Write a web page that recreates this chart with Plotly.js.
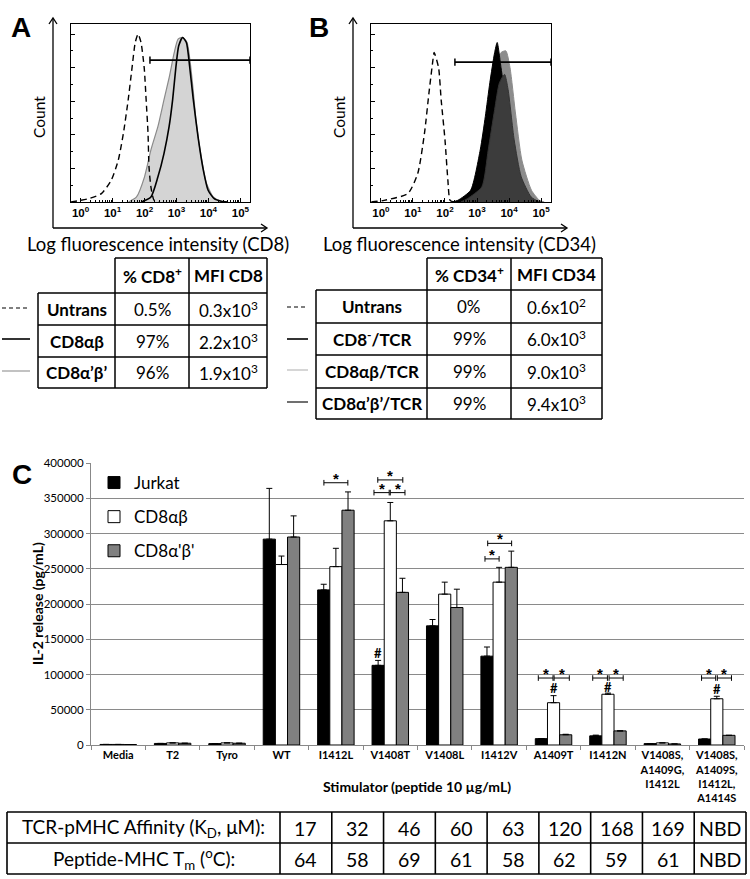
<!DOCTYPE html>
<html><head><meta charset="utf-8">
<script src="https://cdn.plot.ly/plotly-3.0.1.min.js"></script>
<style>html,body{margin:0;padding:0;background:#fff}#chart{width:750px;height:879px}</style>
</head><body><div id="chart"></div>
<script>
// ---------- Panel A histogram (x = log10 fluorescence, y = relative count) ----------
const untransA_x = [-0.3, 0.25, 0.65, 0.96, 1.18, 1.34, 1.49, 1.61, 1.71, 1.80, 1.89, 1.99, 2.05, 2.11, 2.14, 2.20, 2.30, 2.45];
const untransA_y = [0, 2, 5, 13, 25, 41, 61, 80, 95, 100, 95, 80, 61, 41, 21, 9, 1, 0];
const cd8apbpA_x = [1.5, 1.75, 2.0, 2.2, 2.42, 2.61, 2.77, 2.93, 3.05, 3.19, 3.33, 3.43, 3.52, 3.62, 3.78, 3.94, 4.15, 4.38, 4.6];
const cd8apbpA_y = [0, 3, 15, 31, 45, 61, 74, 89, 97, 98, 95, 83, 67, 47, 26, 11, 3, 0.5, 0];
const cd8abA_x = [1.9, 2.2, 2.42, 2.61, 2.77, 2.88, 2.98, 3.07, 3.19, 3.31, 3.41, 3.52, 3.68, 3.84, 3.99, 4.18, 4.4, 4.6];
const cd8abA_y = [0, 3, 15, 29, 45, 61, 80, 93, 98, 95, 81, 62, 38, 19, 7, 2, 0.5, 0];
const gateA = [2.17, 5.30, 84.5];

// ---------- Panel B histogram ----------
const untransB_x = [-0.3, 0.1, 0.84, 1.15, 1.36, 1.5, 1.62, 1.66, 1.8, 1.88, 2.0, 2.09, 2.16, 2.3];
const untransB_y = [0, 1, 5, 17, 41, 65, 84, 89, 80, 61, 37, 13, 1, 0];
const cd8abB_x = [2.3, 2.5, 3.05, 3.35, 3.6, 3.75, 3.9, 4.03, 4.2, 4.4, 4.7, 4.95, 5.1];
const cd8abB_y = [0, 1, 9, 45, 80, 89, 90, 80, 53, 25, 7, 1, 0];
const cd8negB_x = [2.2, 2.4, 2.8, 3.1, 3.26, 3.4, 3.55, 3.63, 3.75, 3.9, 4.1, 4.3, 4.5, 4.7];
const cd8negB_y = [0, 1, 7, 31, 51, 71, 89, 95, 80, 60, 35, 15, 4, 0];
const cd8apbpB_x = [2.5, 2.7, 3.15, 3.35, 3.55, 3.7, 3.86, 3.97, 4.16, 4.38, 4.69, 4.9, 5.0];
const cd8apbpB_y = [0, 2, 9, 31, 55, 71, 76, 67, 37, 15, 3, 0.5, 0];
const gateB = [2.31, 5.31, 83.3];

const decadeTicks = [0, 1, 2, 3, 4, 5];
const decadeText = ['10<sup>0</sup>', '10<sup>1</sup>', '10<sup>2</sup>', '10<sup>3</sup>', '10<sup>4</sup>', '10<sup>5</sup>'];

// ---------- Tables A and B ----------
const tableA_head = ['% CD8<sup>+</sup>', 'MFI CD8'];
const tableA_rows = ['Untrans', 'CD8αβ', 'CD8α’β’'];
const tableA_pct = ['0.5%', '97%', '96%'];
const tableA_mfi = ['0.3x10<sup>3</sup>', '2.2x10<sup>3</sup>', '1.9x10<sup>3</sup>'];
const tableB_head = ['% CD34<sup>+</sup>', 'MFI CD34'];
const tableB_rows = ['Untrans', 'CD8<sup>-</sup>/TCR', 'CD8αβ/TCR', 'CD8α’β’/TCR'];
const tableB_pct = ['0%', '99%', '99%', '99%'];
const tableB_mfi = ['0.6x10<sup>2</sup>', '6.0x10<sup>3</sup>', '9.0x10<sup>3</sup>', '9.4x10<sup>3</sup>'];

// ---------- Panel C bar chart ----------
const categories = ['Media', 'T2', 'Tyro', 'WT', 'I1412L', 'V1408T', 'V1408L', 'I1412V', 'A1409T', 'I1412N',
  'V1408S,<br>A1409G,<br>I1412L', 'V1408S,<br>A1409S,<br>I1412L,<br>A1414S'];
const jurkat     = [800, 2200, 2000, 292000, 220000, 113000, 169000, 126000, 9000, 13000, 2000, 8500];
const jurkatErr  = [null, null, null, 72000, 8000, 7000, 9000, 13000, null, 1000, null, null];
const cd8ab      = [800, 3000, 3000, 256000, 253000, 318000, 214000, 231000, 60000, 72000, 3000, 65600];
const cd8abErr   = [null, null, null, 12000, 26000, 26000, 17000, 21000, 10000, 1600, null, 3500];
const cd8apbp    = [700, 2500, 2500, 295000, 333000, 216500, 195000, 252000, 14500, 20000, 1500, 13700];
const cd8apbpErr = [null, null, null, 30000, 26000, 20000, 26000, 23000, 700, null, null, null];

// significance brackets: category index, start/end offset (category units), height
const bracketCat = [4, 5, 5, 5, 7, 7, 8, 8, 9, 9, 11, 11];
const bracketX0  = [-0.22, -0.23, -0.30, 0.00, -0.21, -0.26, -0.28, 0.01, -0.28, 0.02, -0.28, 0.01];
const bracketX1  = [0.22, 0.23, -0.02, 0.27, 0.23, 0.00, -0.01, 0.29, -0.01, 0.28, -0.02, 0.27];
const bracketY   = [372000, 376000, 358000, 358000, 286000, 264000, 95000, 95000, 95000, 95000, 95000, 95000];
const hashCat = [5, 8, 9, 11];
const hashOff = [-0.22, 0, 0, 0];
const hashY   = [131000, 81000, 82000, 80000];

// ---------- Bottom table ----------
const affinityLabel = 'TCR-pMHC Affinity (K<sub>D</sub>, μM):';
const tmLabel = 'Peptide-MHC T<sub>m</sub> (<sup>o</sup>C):';
const affinity = ['17', '32', '46', '60', '63', '120', '168', '169', 'NBD'];
const tm = ['64', '58', '69', '61', '58', '62', '59', '61', 'NBD'];

// ================== build ==================
const W = 750, H = 879;
const px = v => v / W;
const py = v => 1 - v / H;
const FONT = 'Lato, "Liberation Sans", sans-serif';
const ARIAL = '"Liberation Sans", Arial, sans-serif';

const shapes = [];
const ann = [];
function pline(x0, y0, x1, y1, color, width, dash) {
  shapes.push({type: 'line', xref: 'paper', yref: 'paper', x0: px(x0), y0: py(y0), x1: px(x1), y1: py(y1),
    line: {color: color || '#000', width: width || 1, dash: dash || 'solid'}});
}
function ppath(pts, color, width) {
  const d = pts.map((p, i) => (i ? 'L' : 'M') + px(p[0]).toFixed(5) + ',' + py(p[1]).toFixed(5)).join(' ');
  shapes.push({type: 'path', xref: 'paper', yref: 'paper', path: d, line: {color: color || '#000', width: width || 1}});
}
function ptext(x, y, text, size, opts) {
  ann.push(Object.assign({xref: 'paper', yref: 'paper', x: px(x), y: py(y), text: text, showarrow: false,
    xanchor: 'center', yanchor: 'middle', font: {family: FONT, size: size, color: '#000'}}, opts || {}));
}

// minor ticks for log axes
const minorLog = [];
for (let d = 0; d < 6; d++) for (let k = 2; k < 10; k++) { const v = d + Math.log10(k); if (v < 5.3) minorLog.push(v); }

function histX(domain, anchor, range) {
  return {domain: domain, anchor: anchor, range: range, showline: true, mirror: true, linecolor: '#000', linewidth: 1.2,
    showgrid: false, zeroline: false, ticks: 'inside', ticklen: 4, tickcolor: '#000', tickwidth: 1, tickangle: 0,
    tickvals: decadeTicks, ticktext: decadeText, tickfont: {family: ARIAL, size: 11.5, color: '#000', weight: 'bold'},
    minor: {tickvals: minorLog, ticks: 'inside', ticklen: 2.5, tickcolor: '#000', showgrid: false}, fixedrange: true};
}
function histY(anchor) {
  return {domain: [py(202), py(24)], anchor: anchor, range: [0, 106], showline: true, mirror: true, linecolor: '#000', linewidth: 1.2,
    showgrid: false, zeroline: false, ticks: 'inside', ticklen: 4, tickcolor: '#000', tickvals: [0, 20, 40, 60, 80, 100],
    showticklabels: false, minor: {dtick: 10, ticks: 'inside', ticklen: 2, tickcolor: '#000', showgrid: false}, fixedrange: true};
}

const traces = [
  // A
  {x: cd8apbpA_x, y: cd8apbpA_y, xaxis: 'x', yaxis: 'y', type: 'scatter', mode: 'lines', fill: 'tozeroy',
    fillcolor: '#d4d4d4', line: {color: '#8a8a8a', width: 1.2, shape: 'spline', smoothing: 0.6}, showlegend: false, hoverinfo: 'skip'},
  {x: cd8abA_x, y: cd8abA_y, xaxis: 'x', yaxis: 'y', type: 'scatter', mode: 'lines',
    line: {color: '#000', width: 1.6, shape: 'spline', smoothing: 0.6}, showlegend: false, hoverinfo: 'skip'},
  {x: untransA_x, y: untransA_y, xaxis: 'x', yaxis: 'y', type: 'scatter', mode: 'lines',
    line: {color: '#000', width: 1.4, dash: '6px,4px', shape: 'spline', smoothing: 0.6}, showlegend: false, hoverinfo: 'skip'},
  // B
  {x: cd8abB_x, y: cd8abB_y, xaxis: 'x2', yaxis: 'y2', type: 'scatter', mode: 'lines', fill: 'tozeroy',
    fillcolor: '#8c8c8c', line: {color: '#8c8c8c', width: 1, shape: 'spline', smoothing: 0.6}, showlegend: false, hoverinfo: 'skip'},
  {x: cd8negB_x, y: cd8negB_y, xaxis: 'x2', yaxis: 'y2', type: 'scatter', mode: 'lines', fill: 'tozeroy',
    fillcolor: '#000', line: {color: '#000', width: 1, shape: 'spline', smoothing: 0.6}, showlegend: false, hoverinfo: 'skip'},
  {x: cd8apbpB_x, y: cd8apbpB_y, xaxis: 'x2', yaxis: 'y2', type: 'scatter', mode: 'lines', fill: 'tozeroy',
    fillcolor: '#3c3c3c', line: {color: '#333', width: 1, shape: 'spline', smoothing: 0.6}, showlegend: false, hoverinfo: 'skip'},
  {x: untransB_x, y: untransB_y, xaxis: 'x2', yaxis: 'y2', type: 'scatter', mode: 'lines',
    line: {color: '#000', width: 1.4, dash: '6px,4px', shape: 'spline', smoothing: 0.6}, showlegend: false, hoverinfo: 'skip'},
  // C
  {x: categories, y: jurkat, name: 'Jurkat', type: 'bar', xaxis: 'x3', yaxis: 'y3', legendgroup: 'g1',
    marker: {color: '#000', line: {color: '#000', width: 1}},
    error_y: {type: 'data', symmetric: false, array: jurkatErr, arrayminus: jurkatErr.map(() => 0), color: '#000', thickness: 1, width: 3}},
  {x: categories, y: cd8ab, name: 'CD8αβ', type: 'bar', xaxis: 'x3', yaxis: 'y3', legendgroup: 'g2',
    marker: {color: '#fff', line: {color: '#000', width: 1}},
    error_y: {type: 'data', symmetric: false, array: cd8abErr, arrayminus: cd8abErr.map(() => 0), color: '#000', thickness: 1, width: 3}},
  {x: categories, y: cd8apbp, name: "CD8α'β'", type: 'bar', xaxis: 'x3', yaxis: 'y3', legendgroup: 'g3',
    marker: {color: '#808080', line: {color: '#000', width: 1}},
    error_y: {type: 'data', symmetric: false, array: cd8apbpErr, arrayminus: cd8apbpErr.map(() => 0), color: '#000', thickness: 1, width: 3}}
];

// gates
function gate(g, xa, ya) {
  shapes.push({type: 'line', xref: xa, yref: ya, x0: g[0], x1: g[1], y0: g[2], y1: g[2], line: {color: '#000', width: 1.8}});
  [g[0], g[1]].forEach(x => shapes.push({type: 'line', xref: xa, yref: ya, x0: x, x1: x, y0: g[2] - 2.2, y1: g[2] + 2.2, line: {color: '#000', width: 1.5}}));
}
gate(gateA, 'x', 'y');
gate(gateB, 'x2', 'y2');

// outer arrow axes for A and B
[0, 300].forEach(o => {
  pline(53 + o, 228, 53 + o, 19, '#000', 1.3);
  pline(53 + o, 228, 266 + o, 228, '#000', 1.3);
  ppath([[49 + o, 24], [53 + o, 18], [57 + o, 24]], '#000', 1.3);
  ppath([[261 + o, 224], [267 + o, 228], [261 + o, 232]], '#000', 1.3);
  ptext(39 + o, 117, 'Count', 15.5, {textangle: -90});
});
ptext(158, 244, 'Log fluorescence intensity (CD8)', 18.5);
ptext(459, 244, 'Log fluorescence intensity (CD34)', 18.5);
ptext(21, 28, '<b>A</b>', 28, {font: {family: ARIAL, size: 28, color: '#000'}});
ptext(319, 28, '<b>B</b>', 28, {font: {family: ARIAL, size: 28, color: '#000'}});
ptext(22, 474, '<b>C</b>', 28, {font: {family: ARIAL, size: 28, color: '#000'}});

const TS = 17;
// table A
(function () {
  const ry = [258, 293, 325, 357, 388], bw = 1.5;
  pline(115, 258, 267, 258, '#000', bw);
  for (let i = 1; i < ry.length; i++) pline(38, ry[i], 267, ry[i], '#000', bw);
  pline(38, 293, 38, 388, '#000', bw);
  [115, 189, 267].forEach(x => pline(x, 258, x, 388, '#000', bw));
  ptext(152, 275.5, '<b>' + tableA_head[0] + '</b>', TS);
  ptext(228, 275.5, '<b>' + tableA_head[1] + '</b>', TS);
  for (let i = 0; i < 3; i++) {
    const y = (ry[i + 1] + ry[i + 2]) / 2;
    ptext(76.5, y, '<b>' + tableA_rows[i] + '</b>', TS);
    ptext(152, y, tableA_pct[i], TS);
    ptext(228, y, tableA_mfi[i], TS);
  }
  pline(2, 308, 30, 308, '#000', 1.2, '4px,3px');
  pline(2, 339, 30, 339, '#000', 1.6);
  pline(2, 371, 30, 371, '#999', 1.2);
})();
// table B
(function () {
  const ry = [258, 290, 323, 355, 388, 419], bw = 1.5;
  pline(427, 258, 602, 258, '#000', bw);
  for (let i = 1; i < ry.length; i++) pline(316, ry[i], 602, ry[i], '#000', bw);
  pline(316, 290, 316, 419, '#000', bw);
  [427, 511, 602].forEach(x => pline(x, 258, x, 419, '#000', bw));
  ptext(469, 274, '<b>' + tableB_head[0] + '</b>', TS);
  ptext(556.5, 274, '<b>' + tableB_head[1] + '</b>', TS);
  for (let i = 0; i < 4; i++) {
    const y = (ry[i + 1] + ry[i + 2]) / 2;
    ptext(371.5, y, '<b>' + tableB_rows[i] + '</b>', TS);
    ptext(469, y, tableB_pct[i], TS);
    ptext(556.5, y, tableB_mfi[i], TS);
  }
  pline(287, 307, 308, 307, '#000', 1.2, '4px,3px');
  pline(287, 339, 308, 339, '#000', 1.6);
  pline(287, 370, 308, 370, '#bbb', 1.2);
  pline(287, 402, 308, 402, '#111', 1.2);
})();

// bottom table
(function () {
  const x0 = 7, xl = 280, x1 = 746, ry = [812, 843, 874], bw = 1.6;
  const cw = (x1 - xl) / affinity.length;
  ry.forEach(y => pline(x0, y, x1, y, '#000', bw));
  pline(x0, ry[0], x0, ry[2], '#000', bw);
  for (let i = 0; i <= affinity.length; i++) pline(xl + i * cw, ry[0], xl + i * cw, ry[2], '#000', bw);
  ptext((x0 + xl) / 2, 828, affinityLabel, 19);
  ptext((x0 + xl) / 2, 859, tmLabel, 19);
  for (let i = 0; i < affinity.length; i++) {
    ptext(xl + (i + 0.5) * cw, 828, affinity[i], 19.5);
    ptext(xl + (i + 0.5) * cw, 859, tm[i], 19.5);
  }
})();

// bar chart titles
ptext(417, 786, '<b>Stimulator (peptide 10 µg/mL)</b>', 14);
ptext(37, 604, '<b>IL-2 release (pg/mL)</b>', 14, {textangle: -90});

// significance brackets
const capH = 4000;
for (let i = 0; i < bracketCat.length; i++) {
  const a = bracketCat[i] + bracketX0[i], b = bracketCat[i] + bracketX1[i], y = bracketY[i];
  shapes.push({type: 'line', xref: 'x3', yref: 'y3', x0: a, x1: b, y0: y, y1: y, line: {color: '#000', width: 1}});
  [a, b].forEach(x => shapes.push({type: 'line', xref: 'x3', yref: 'y3', x0: x, x1: x, y0: y - capH, y1: y + capH, line: {color: '#000', width: 1}}));
  ann.push({xref: 'x3', yref: 'y3', x: (a + b) / 2, y: y, text: '<b>*</b>', showarrow: false, xanchor: 'center', yanchor: 'bottom',
    yshift: -6, font: {family: ARIAL, size: 15, color: '#000'}});
}
for (let i = 0; i < hashCat.length; i++) {
  ann.push({xref: 'x3', yref: 'y3', x: hashCat[i] + hashOff[i], y: hashY[i], text: '<b>#</b>', showarrow: false,
    xanchor: 'center', yanchor: 'middle', font: {family: FONT, size: 13, color: '#000'}});
}

const layout = {
  width: W, height: H, margin: {l: 0, r: 0, t: 0, b: 0}, paper_bgcolor: '#fff', plot_bgcolor: 'rgba(0,0,0,0)',
  showlegend: true,
  legend: {x: px(94), y: py(465), xanchor: 'left', yanchor: 'top', bgcolor: 'rgba(0,0,0,0)', tracegroupgap: 9,
    font: {family: FONT, size: 17, color: '#000'}},
  barmode: 'group', bargap: 0.33, bargroupgap: 0,
  xaxis: histX([px(71), px(250)], 'y', [-0.30, 5.30]),
  yaxis: histY('x'),
  xaxis2: histX([px(371), px(551)], 'y2', [-0.31, 5.31]),
  yaxis2: histY('x2'),
  xaxis3: {domain: [px(91), px(744)], anchor: 'y3', type: 'category', showline: true, linecolor: '#888', linewidth: 1,
    ticks: 'outside', tickson: 'boundaries', ticklen: 4, tickcolor: '#888', showgrid: false, zeroline: false, tickangle: 0,
    tickfont: {family: FONT, size: 11, color: '#000', weight: 'bold'}, fixedrange: true},
  yaxis3: {domain: [py(745), py(463)], anchor: 'x3', range: [0, 400000], dtick: 50000, tickformat: 'd',
    showgrid: true, gridcolor: '#8a8a8a', gridwidth: 1, showline: true, linecolor: '#888', linewidth: 1, zeroline: false,
    ticks: 'outside', ticklen: 4, tickcolor: '#888', tickfont: {family: FONT, size: 11.5, color: '#000'}, fixedrange: true},
  shapes: shapes,
  annotations: ann
};

Plotly.newPlot('chart', traces, layout, {displayModeBar: false, staticPlot: true});
</script>
</body></html>
